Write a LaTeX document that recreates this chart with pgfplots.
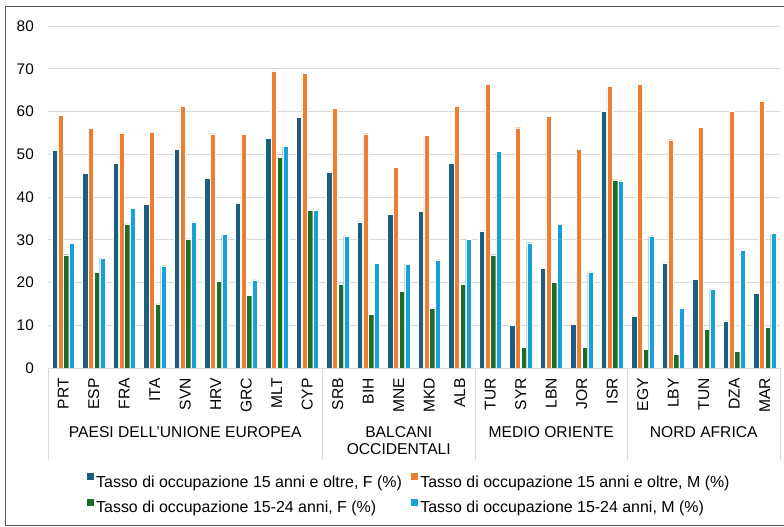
\documentclass[border=0pt]{standalone}
\usepackage{pgfplots}
\pgfplotsset{compat=1.18}
\usepackage{fontspec}
\setmainfont{Liberation Sans}
\definecolor{cF}{RGB}{27,94,130}
\definecolor{cM}{RGB}{237,125,49}
\definecolor{cFy}{RGB}{30,107,42}
\definecolor{cMy}{RGB}{21,161,217}
\definecolor{gridgray}{RGB}{217,217,217}
\definecolor{framegray}{RGB}{89,89,89}
\begin{document}
\begin{tikzpicture}[font=\fontsize{15.7}{17}\selectfont]
\useasboundingbox (-48bp,-159bp) rectangle (736bp,368bp);
\draw[framegray, line width=1bp] (740bp,361bp) -- (-42bp,361bp) -- (-42bp,-157bp) -- (740bp,-157bp);
\begin{axis}[
  at={(0,0)}, anchor=south west, scale only axis,
  width=732bp, height=342bp,
  xmin=-0.5, xmax=23.5, ymin=0, ymax=80,
  ytick={0,10,...,80},
  ymajorgrids, grid style={draw=gridgray, line width=0.9bp},
  axis line style={draw=none},
  major tick length=0pt,
  /pgf/number format/assume math mode=true,
  yticklabel style={anchor=east, inner sep=0pt, font=\fontsize{15.4}{17}\selectfont},
  yticklabel shift=14bp,
  xtick={0,...,23},
  xticklabels={PRT,ESP,FRA,ITA,SVN,HRV,GRC,MLT,CYP,SRB,BIH,MNE,MKD,ALB,TUR,SYR,LBN,JOR,ISR,EGY,LBY,TUN,DZA,MAR},
  xticklabel style={rotate=90, anchor=east, inner sep=0pt},
  xticklabel shift=10bp,
  ybar=0.5bp, bar width=5.2bp,
  every axis plot/.append style={draw=white, line width=0.4bp},
  legend columns=2,
  legend cell align=left,
  legend image code/.code={\path[#1, draw=none] (0bp,2bp) rectangle (7bp,9bp);},
  legend style={draw=none, fill=none, inner sep=0pt, at={(39bp,-105bp)}, anchor=north west,
    font=\fontsize{16}{17}\selectfont,
    /tikz/every even column/.append style={column sep=7.5bp},
    /tikz/every odd column/.append style={column sep=0bp},
    row sep=8bp, nodes={inner sep=2bp}},
  clip=false,
]
\addplot[fill=cF] coordinates {(0,50.9) (1,45.6) (2,47.8) (3,38.3) (4,51.2) (5,44.3) (6,38.6) (7,53.7) (8,58.7)
 (9,45.9) (10,34.2) (11,36.0) (12,36.6) (13,47.8)
 (14,32.1) (15,9.9) (16,23.3) (17,10.2) (18,60.0)
 (19,12.2) (20,24.6) (21,20.7) (22,11.0) (23,17.4)};
\addplot[fill=cM] coordinates {(0,59.1) (1,56.1) (2,55.0) (3,55.2) (4,61.3) (5,54.8) (6,54.6) (7,69.5) (8,69.0)
 (9,60.8) (10,54.8) (11,46.9) (12,54.4) (13,61.3)
 (14,66.3) (15,56.2) (16,58.8) (17,51.2) (18,65.9)
 (19,66.4) (20,53.4) (21,56.3) (22,60.1) (23,62.5)};
\addplot[fill=cFy] coordinates {(0,26.5) (1,22.3) (2,33.7) (3,15.0) (4,30.2) (5,20.3) (6,17.0) (7,49.2) (8,36.8)
 (9,19.7) (10,12.5) (11,18.0) (12,13.9) (13,19.6)
 (14,26.5) (15,4.8) (16,20.0) (17,4.9) (18,44.0)
 (19,4.3) (20,3.2) (21,9.0) (22,3.9) (23,9.5)};
\addplot[fill=cMy] coordinates {(0,29.2) (1,25.7) (2,37.3) (3,23.9) (4,34.2) (5,31.2) (6,20.6) (7,51.8) (8,37.0)
 (9,30.9) (10,24.4) (11,24.3) (12,25.3) (13,30.1)
 (14,50.7) (15,29.3) (16,33.6) (17,22.5) (18,43.6)
 (19,30.9) (20,14.0) (21,18.5) (22,27.6) (23,31.5)};
\legend{Tasso di occupazione 15 anni e oltre{,} F (\%),Tasso di occupazione 15 anni e oltre{,} M (\%),Tasso di occupazione 15-24 anni{,} F (\%),Tasso di occupazione 15-24 anni{,} M (\%)}
\draw[gridgray, line width=0.9bp] (axis cs:-0.5,0) -- (axis cs:23.5,0);
\draw[gridgray, line width=0.9bp] (axis cs:-0.5,0) -- ([yshift=-92bp]axis cs:-0.5,0);
\draw[gridgray, line width=0.9bp] (axis cs:8.5,0) -- ([yshift=-92bp]axis cs:8.5,0);
\draw[gridgray, line width=0.9bp] (axis cs:13.5,0) -- ([yshift=-92bp]axis cs:13.5,0);
\draw[gridgray, line width=0.9bp] (axis cs:18.5,0) -- ([yshift=-92bp]axis cs:18.5,0);
\draw[gridgray, line width=0.9bp] (axis cs:23.5,0) -- ([yshift=-92bp]axis cs:23.5,0);
\node[anchor=north, inner sep=0pt, align=center] at ([yshift=-58bp]axis cs:4,0) {PAESI DELL'UNIONE EUROPEA};
\node[anchor=north, inner sep=0pt, align=center] at ([yshift=-58bp]axis cs:11,0) {BALCANI\\OCCIDENTALI};
\node[anchor=north, inner sep=0pt, align=center] at ([yshift=-58bp]axis cs:16,0) {MEDIO ORIENTE};
\node[anchor=north, inner sep=0pt, align=center] at ([yshift=-58bp]axis cs:21,0) {NORD AFRICA};
\end{axis}
\end{tikzpicture}
\end{document}
